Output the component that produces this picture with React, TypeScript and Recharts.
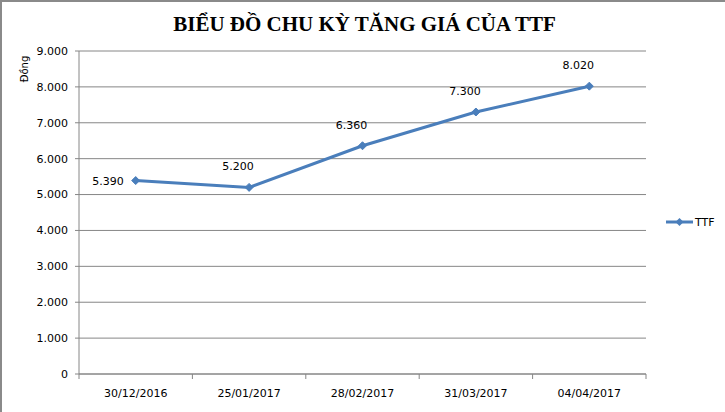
import React from "react"
import { LineChart, Line, XAxis, YAxis, CartesianGrid, Legend, LabelList } from "recharts"

const dates = ["30/12/2016", "25/01/2017", "28/02/2017", "31/03/2017", "04/04/2017"]
const ttfPrices = [5390, 5200, 6360, 7300, 8020]
const yTicks = [0, 1000, 2000, 3000, 4000, 5000, 6000, 7000, 8000, 9000]

const data = dates.map((date, i) => ({ date, TTF: ttfPrices[i] }))

const W = 725
const H = 412
const PLOT_LEFT = 79
const PLOT_RIGHT = 646
const PLOT_TOP = 51
const PLOT_BOTTOM = 374
const HALF_BAND = (PLOT_RIGHT - PLOT_LEFT) / dates.length / 2

const LINE_COLOR = "#4a7ebb"
const AXIS_COLOR = "#868686"
const FONT = "'DejaVu Sans', sans-serif"

// 9000 -> "9.000"
const fmt = (v: number) => v.toString().replace(/\B(?=(\d{3})+(?!\d))/g, ".")

const Diamond = (props: any) => {
  const { cx, cy } = props
  if (cx == null || cy == null) return null
  const r = 4
  return (
    <polygon
      points={`${cx},${cy - r} ${cx + r},${cy} ${cx},${cy + r} ${cx - r},${cy}`}
      fill={LINE_COLOR}
      stroke={LINE_COLOR}
    />
  )
}

// ticks sit between categories, like excel does it
const DateTick = (props: any) => {
  const { x, y, payload, index } = props
  const last = index === dates.length - 1
  return (
    <g>
      <line x1={x - HALF_BAND} x2={x - HALF_BAND} y1={y} y2={y + 5} stroke={AXIS_COLOR} />
      {last && <line x1={x + HALF_BAND} x2={x + HALF_BAND} y1={y} y2={y + 5} stroke={AXIS_COLOR} />}
      <text x={x} y={y + 23} textAnchor="middle" fontSize={11} fontFamily={FONT} fill="#000">
        {payload.value}
      </text>
    </g>
  )
}

const renderValueLabel = (props: any) => {
  const { x, y, value, index } = props
  if (index === 0) {
    return (
      <text x={x - 12} y={y + 4} textAnchor="end" fontSize={11} fontFamily={FONT} fill="#000">
        {fmt(value)}
      </text>
    )
  }
  return (
    <text x={x - 11} y={y - 17} textAnchor="middle" fontSize={11} fontFamily={FONT} fill="#000">
      {fmt(value)}
    </text>
  )
}

const renderLegend = () => (
  <svg width={60} height={16}>
    <line x1={2} x2={29} y1={8} y2={8} stroke={LINE_COLOR} strokeWidth={3} />
    <polygon points="15.5,4 19.5,8 15.5,12 11.5,8" fill={LINE_COLOR} />
    <text x={31} y={12} fontSize={11} fontFamily={FONT} fill="#000">TTF</text>
  </svg>
)

export default function App() {
  return (
    <div
      style={{
        position: "absolute",
        left: 0,
        top: 0,
        width: W,
        height: H,
        background: "#fff",
        borderTop: "2px solid #8a8a8a",
        borderLeft: "2px solid #8a8a8a",
        boxSizing: "border-box",
      }}
    >
      <div
        style={{
          position: "absolute",
          left: 0,
          top: 9,
          width: W,
          textAlign: "center",
          fontFamily: "'Liberation Serif', serif",
          fontWeight: "bold",
          fontSize: 21,
          lineHeight: "26px",
          color: "#000",
        }}
      >
        BIỂU ĐỒ CHU KỲ TĂNG GIÁ CỦA TTF
      </div>
      <div
        style={{
          position: "absolute",
          left: 22,
          top: 67,
          transform: "translate(-50%, -50%) rotate(-90deg)",
          fontFamily: FONT,
          fontSize: 10,
          color: "#000",
          whiteSpace: "nowrap",
        }}
      >
        Đồng
      </div>
      <div style={{ position: "absolute", left: -2, top: -2 }}>
        <LineChart
          width={W}
          height={H}
          data={data}
          margin={{ top: PLOT_TOP, right: W - PLOT_RIGHT, bottom: H - PLOT_BOTTOM - 30, left: PLOT_LEFT - 60 }}
        >
          <CartesianGrid vertical={false} stroke={AXIS_COLOR} />
          <XAxis
            dataKey="date"
            height={30}
            stroke={AXIS_COLOR}
            tickLine={false}
            tickSize={0}
            tickMargin={0}
            interval={0}
            padding={{ left: HALF_BAND, right: HALF_BAND }}
            tick={<DateTick />}
          />
          <YAxis
            width={60}
            domain={[0, 9000]}
            ticks={yTicks}
            stroke={AXIS_COLOR}
            tickSize={4}
            tickMargin={7}
            tickFormatter={fmt}
            tick={{ fontSize: 11, fontFamily: FONT, fill: "#000" }}
          />
          <Legend
            layout="horizontal"
            align="center"
            verticalAlign="middle"
            content={renderLegend}
            wrapperStyle={{ left: 664, top: 214, width: 60, height: 16 }}
          />
          <Line
            dataKey="TTF"
            stroke={LINE_COLOR}
            strokeWidth={3}
            dot={<Diamond />}
            activeDot={false}
            isAnimationActive={false}
          >
            <LabelList dataKey="TTF" content={renderValueLabel} />
          </Line>
        </LineChart>
      </div>
    </div>
  )
}
